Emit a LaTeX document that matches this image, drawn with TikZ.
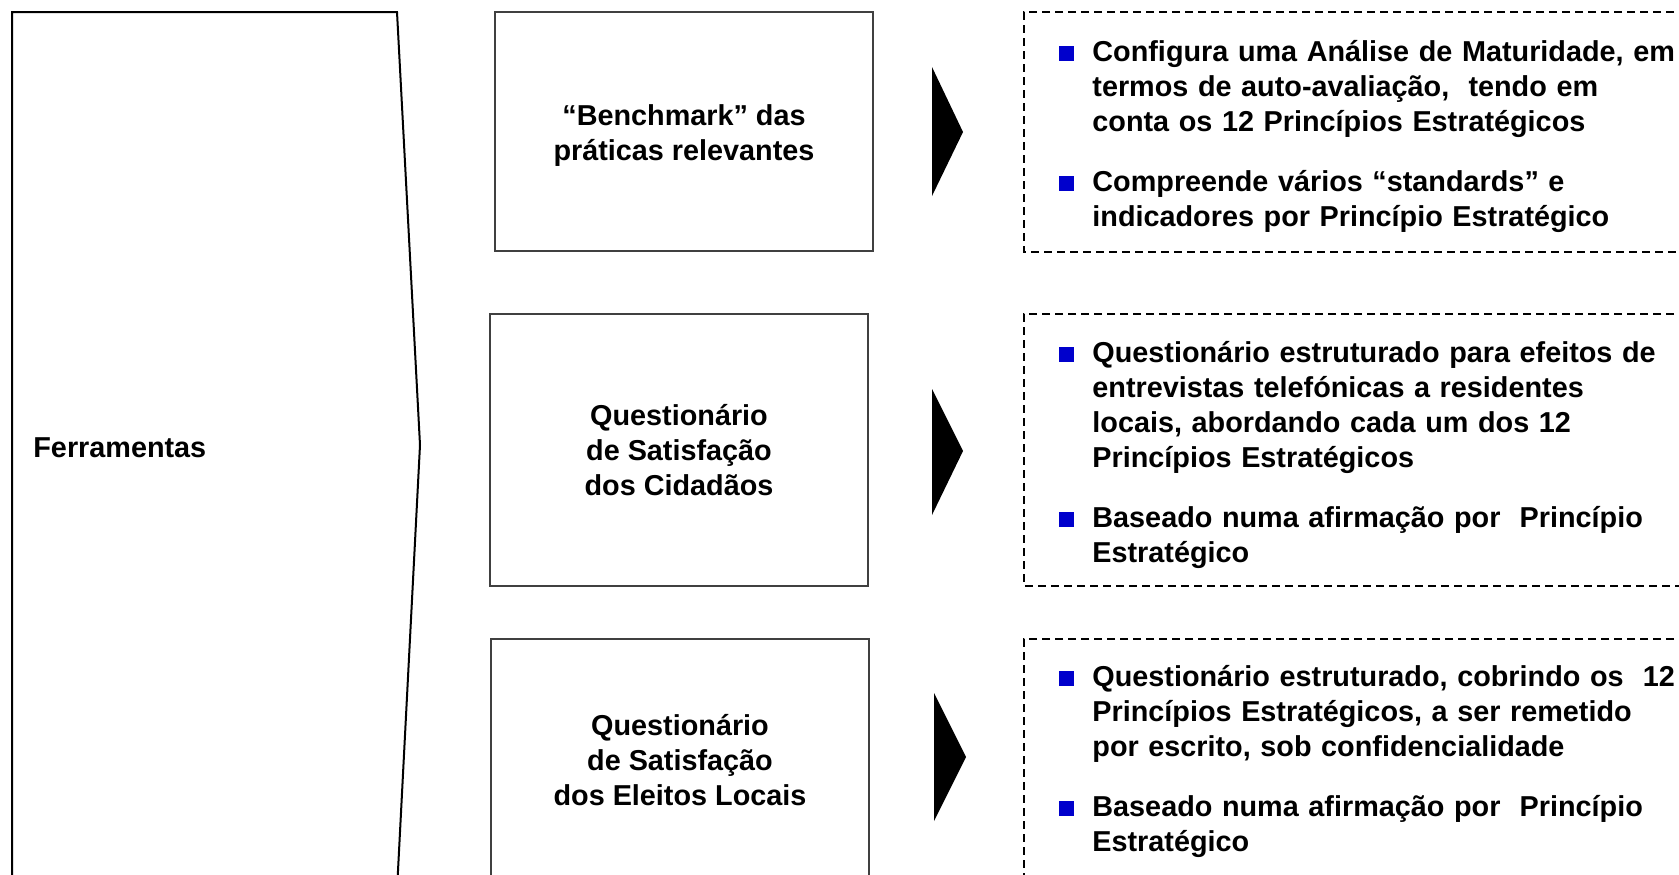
\documentclass[tikz,border=0pt]{standalone}
\usepackage{fontspec}
\setmainfont{Liberation Sans}
\definecolor{bulletblue}{RGB}{0,0,204}
\definecolor{boxgray}{RGB}{64,64,64}
\tikzset{
  txt/.style={font=\bfseries\fontsize{14.4pt}{17.5pt}\selectfont},
  toolbox/.style={txt, draw=boxgray, line width=0.7pt, align=center, inner sep=0pt},
  boxlabel/.style={txt, align=center, inner sep=0pt},
  descbox/.style={draw=black, line width=0.75pt, dash pattern=on 4pt off 2.5pt},
  bullettext/.style={txt, anchor=base west, inner sep=0pt, text width=330pt, align=left},
  bulletsq/.style={fill=bulletblue, minimum size=7.4pt, inner sep=0pt, anchor=south west},
  pointer/.style={fill=black},
  outline/.style={draw=black, line width=1pt, line join=miter},
}
\begin{document}
\begin{tikzpicture}[x=0.5pt,y=-0.5pt]
\useasboundingbox (0,0) rectangle (1679,874);
\clip (0,0) rectangle (1679,874);

% left pentagon
\draw[outline] (12,890) -- (12,12) -- (397,12) -- (420,445) -- (397,890);
\node[txt, anchor=base west, inner sep=0pt] (tools) at (33,457) {Ferramentas};

% tool boxes
\node[toolbox, minimum width=189pt, minimum height=119.5pt] (b1) at (684,131.5) {};
\node[boxlabel] (b1text) at (684,136) {“Benchmark” das\\práticas relevantes};
\node[toolbox, minimum width=189pt, minimum height=136pt] (b2) at (679,450)
  {Questionário\\de Satisfação\\dos Cidadãos};
\node[toolbox, minimum width=189pt, minimum height=121pt] (b3) at (680,760)
  {Questionário\\de Satisfação\\dos Eleitos Locais};

% pointers
\fill[pointer] (932,67) -- (963,132) -- (932,196) -- cycle;
\fill[pointer] (932,389) -- (963,451) -- (932,515) -- cycle;
\fill[pointer] (934,693) -- (966,757) -- (934,821) -- cycle;

% dashed description boxes
\draw[descbox] (1700,12) -- (1024,12) -- (1024,252) -- (1700,252);
\draw[descbox] (1700,314) -- (1024,314) -- (1024,586) -- (1700,586);
\draw[descbox] (1700,639) -- (1024,639) -- (1024,900);

% box A
\node[bulletsq] (sa1) at (1059,61) {};
\node[bullettext] (ta1) at (1092,61)
  {Configura uma Análise de Maturidade, em\\termos de auto-avaliação,\ \ tendo em\\conta os 12 Princípios Estratégicos};
\node[bulletsq] (sa2) at (1059,191) {};
\node[bullettext] (ta2) at (1092,191)
  {Compreende vários “standards” e\\indicadores por Princípio Estratégico};

% box B
\node[bulletsq] (sb1) at (1059,362) {};
\node[bullettext] (tb1) at (1092,362)
  {Questionário estruturado para efeitos de\\entrevistas telefónicas a residentes\\locais, abordando cada um dos 12\\Princípios Estratégicos};
\node[bulletsq] (sb2) at (1059,527) {};
\node[bullettext] (tb2) at (1092,527)
  {Baseado numa afirmação por\ \ Princípio\\Estratégico};

% box C
\node[bulletsq] (sc1) at (1059,686) {};
\node[bullettext] (tc1) at (1092,686)
  {Questionário estruturado, cobrindo os\ \ 12\\Princípios Estratégicos, a ser remetido\\por escrito, sob confidencialidade};
\node[bulletsq] (sc2) at (1059,816) {};
\node[bullettext] (tc2) at (1092,816)
  {Baseado numa afirmação por\ \ Princípio\\Estratégico};
\end{tikzpicture}
\end{document}
